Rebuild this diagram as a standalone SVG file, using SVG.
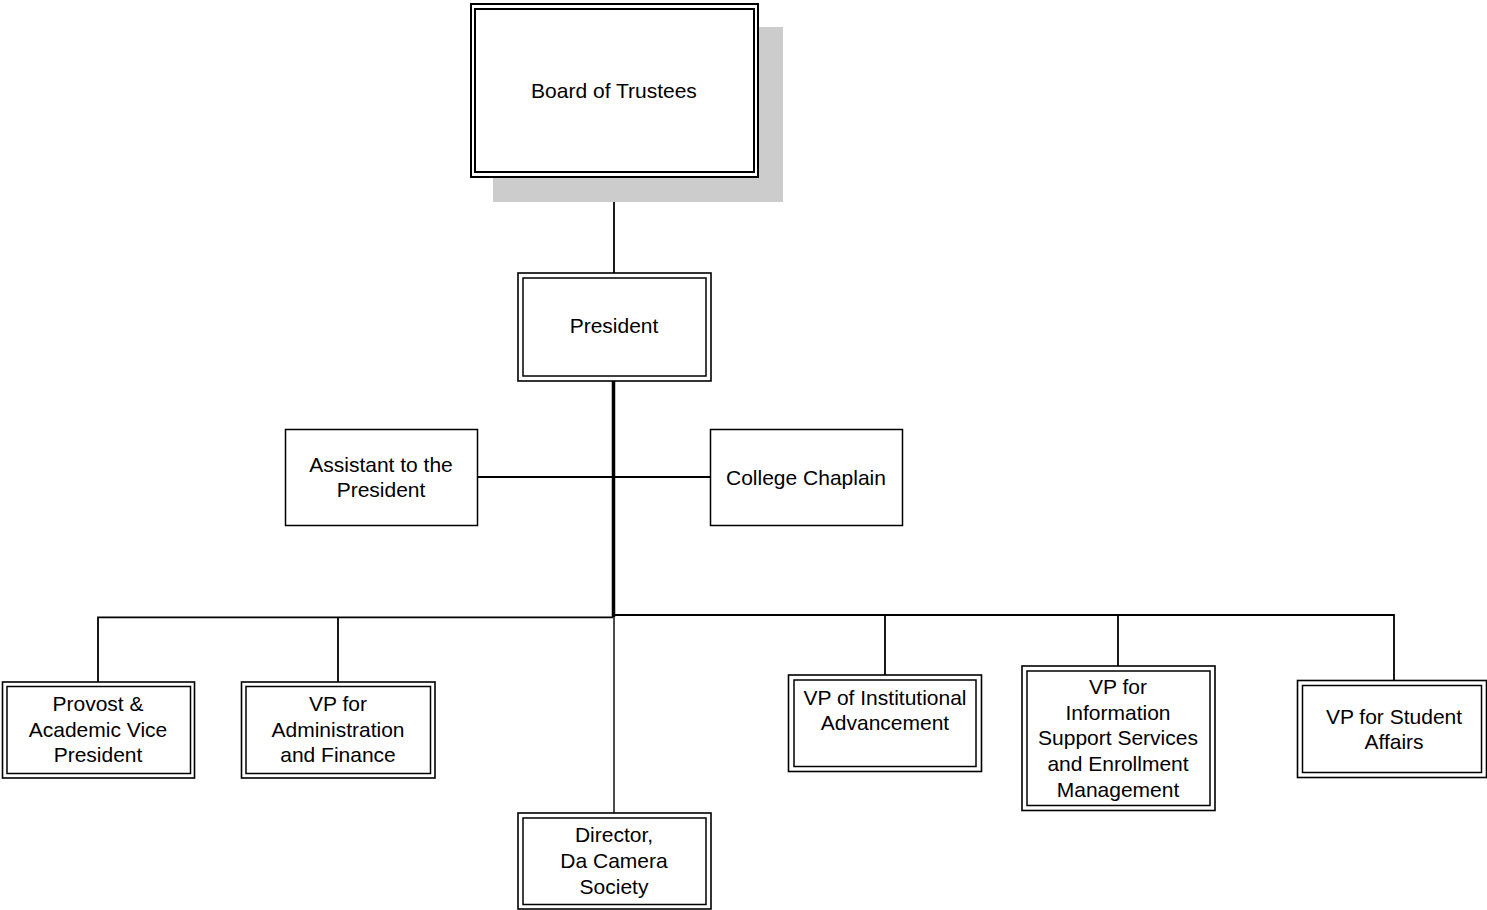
<svg xmlns="http://www.w3.org/2000/svg" width="1487" height="910" viewBox="0 0 1487 910">
<style>
.bg{fill:#ffffff}
.box{fill:#ffffff;stroke:#000;stroke-width:1.6}
.inner{fill:none;stroke:#000;stroke-width:1.5}
.single{fill:#ffffff;stroke:#000;stroke-width:1.5}
.shadow{fill:#cccccc}
.t{font-family:"Liberation Sans",Arial,sans-serif;font-size:21px;fill:#000;text-anchor:middle}
.c{fill:none;stroke:#000;stroke-width:1.8}
</style>
<rect class="bg" x="0" y="0" width="1487" height="910"/>
<g id="connectors">
<path class="c" d="M614 177 V273"/>
<path class="c" d="M613.5 381 V617" style="stroke-width:3.5"/>
<path class="c" d="M478 477 H710"/>
<path class="c" d="M98 682 V617.3 H613"/>
<path class="c" d="M338 617.3 V682"/>
<path class="c" d="M615 615 H1394 V680.5"/>
<path class="c" d="M885 615 V675"/>
<path class="c" d="M1118 615 V666"/>
<path class="c" d="M614 617 V813" style="stroke-width:1.5;stroke:#111"/>
</g>
<g id="board">
<rect class="shadow" x="493" y="27" width="290" height="175"/>
<rect class="box" x="471" y="4" width="287" height="173" style="stroke-width:2"/>
<rect class="inner" x="475" y="9" width="279" height="163" style="stroke-width:2"/>
<text class="t" x="614" y="97.5">Board of Trustees</text>
</g>
<g id="president">
<rect class="box" x="518" y="273" width="193" height="108"/>
<rect class="inner" x="523" y="278" width="183" height="98"/>
<text class="t" x="614" y="333">President</text>
</g>
<g id="assistant">
<rect class="single" x="285.5" y="429.5" width="192" height="96"/>
<text class="t" x="381" y="472">Assistant to the</text>
<text class="t" x="381" y="497">President</text>
</g>
<g id="chaplain">
<rect class="single" x="710.5" y="429.5" width="192" height="96"/>
<text class="t" x="806" y="484.5">College Chaplain</text>
</g>
<g id="provost">
<rect class="box" x="2.5" y="682" width="192" height="96"/>
<rect class="inner" x="7" y="686.5" width="183.5" height="87"/>
<text class="t" x="98" y="711">Provost &amp;</text>
<text class="t" x="98" y="736.5">Academic Vice</text>
<text class="t" x="98" y="762">President</text>
</g>
<g id="vp-admin">
<rect class="box" x="241.5" y="682" width="193.5" height="96"/>
<rect class="inner" x="246" y="686.5" width="184.5" height="87"/>
<text class="t" x="338" y="711">VP for</text>
<text class="t" x="338" y="736.5">Administration</text>
<text class="t" x="338" y="762">and Finance</text>
</g>
<g id="director">
<rect class="box" x="518" y="813" width="193" height="96"/>
<rect class="inner" x="523" y="818" width="183" height="86.5"/>
<text class="t" x="614" y="842">Director,</text>
<text class="t" x="614" y="868">Da Camera</text>
<text class="t" x="614" y="893.5">Society</text>
</g>
<g id="vp-advancement">
<rect class="box" x="788.5" y="675" width="193" height="96.5"/>
<rect class="inner" x="794" y="680" width="182" height="86.5"/>
<text class="t" x="885" y="705">VP of Institutional</text>
<text class="t" x="885" y="730.3">Advancement</text>
</g>
<g id="vp-info">
<rect class="box" x="1022" y="666" width="193" height="144.5"/>
<rect class="inner" x="1027" y="671" width="183" height="134.5"/>
<text class="t" x="1118" y="693.5">VP for</text>
<text class="t" x="1118" y="719.5">Information</text>
<text class="t" x="1118" y="745">Support Services</text>
<text class="t" x="1118" y="771">and Enrollment</text>
<text class="t" x="1118" y="796.5">Management</text>
</g>
<g id="vp-student">
<rect class="box" x="1297.5" y="680.5" width="189" height="97"/>
<rect class="inner" x="1302.5" y="685.5" width="179" height="87"/>
<text class="t" x="1394" y="724">VP for Student</text>
<text class="t" x="1394" y="749">Affairs</text>
</g>
</svg>
